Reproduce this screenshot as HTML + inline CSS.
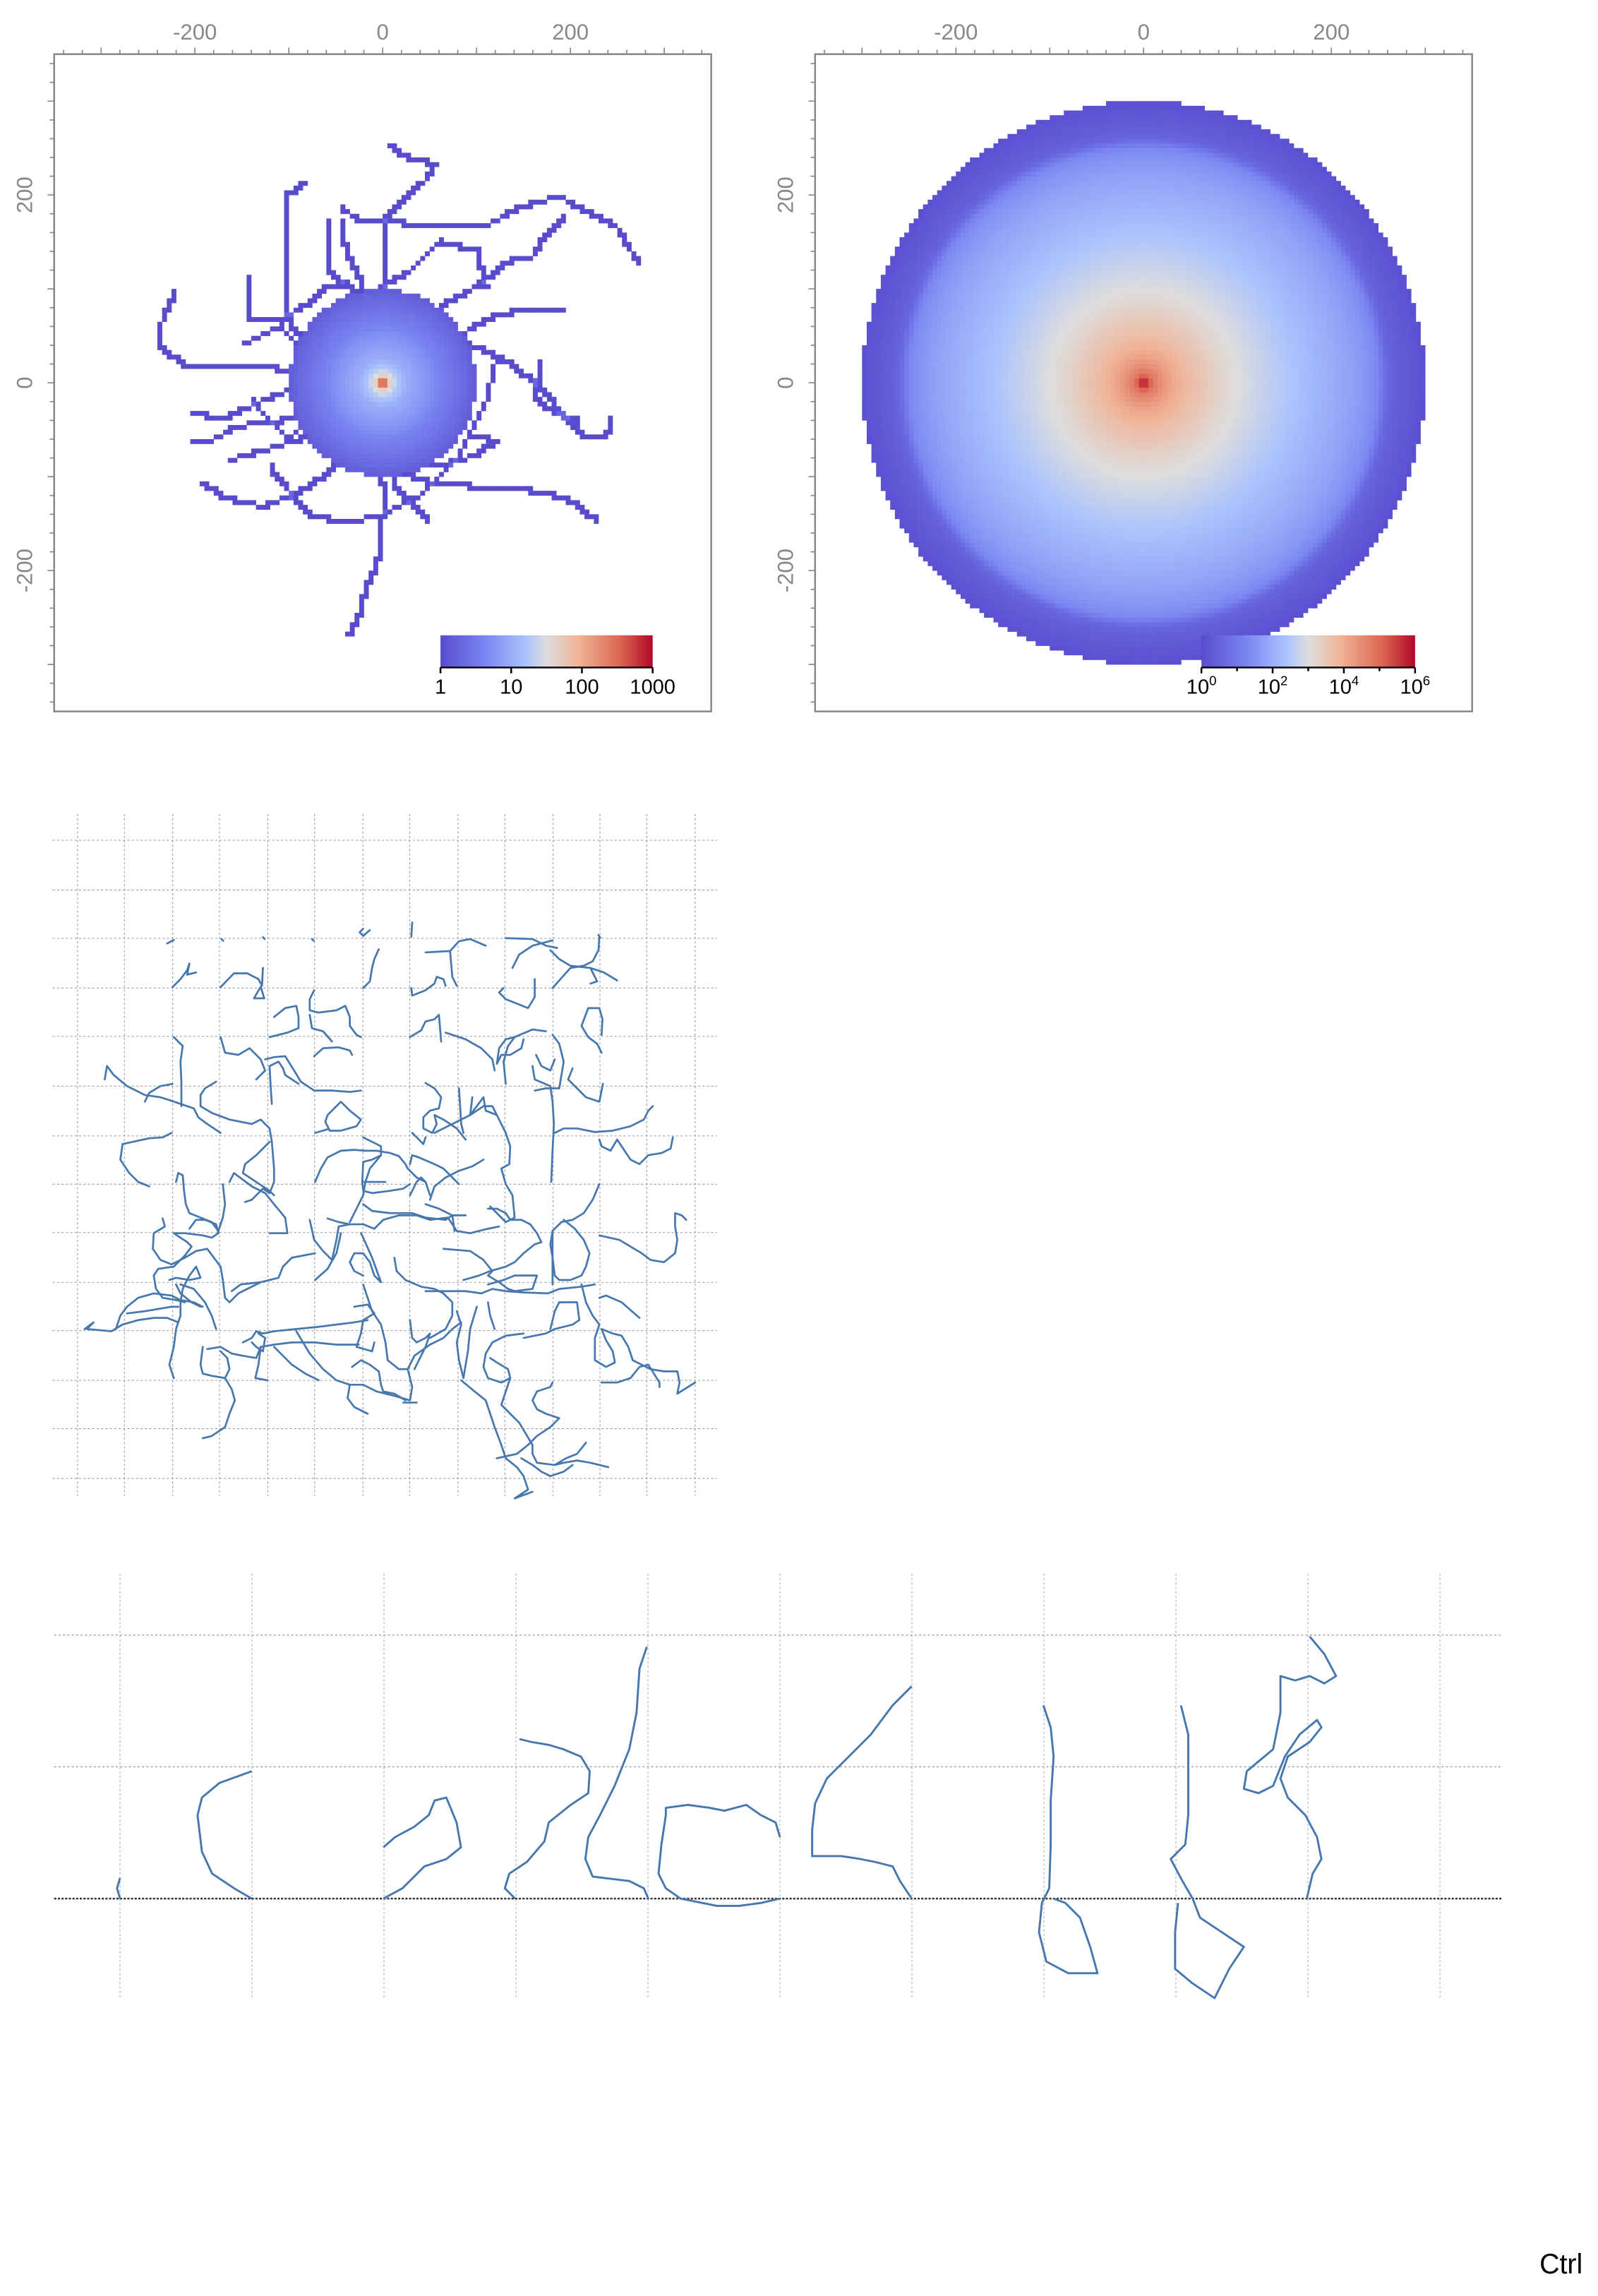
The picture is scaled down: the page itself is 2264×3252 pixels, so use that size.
<!DOCTYPE html>
<html><head><meta charset="utf-8">
<style>
html,body{margin:0;padding:0;background:#fff;}
svg{display:block;font-family:"Liberation Sans",sans-serif;}
</style></head>
<body>
<svg id="root" xmlns="http://www.w3.org/2000/svg" width="2264" height="3252" viewBox="0 0 1092 1568.5" preserveAspectRatio="none">
<defs>
<linearGradient id="cmap" x1="0" x2="1" y1="0" y2="0">
<stop offset="0" stop-color="#584ccd"/><stop offset="0.2" stop-color="#7882f0"/><stop offset="0.4" stop-color="#aac3fd"/><stop offset="0.5" stop-color="#dddddd"/><stop offset="0.65" stop-color="#f0b496"/><stop offset="0.85" stop-color="#dc6450"/><stop offset="1" stop-color="#b20828"/>
</linearGradient>
</defs>
<g id="c1"></g>
<g id="c2"></g>
<g id="c3"></g>
<g id="c4"></g>
<text x="1052" y="1553" font-size="19" fill="#000">Ctrl</text>
</svg>
<script>
// ---------- data ----------
const walks1 = [
 [[-221,97],[-237,60],[-240,39],[-211,19],[-174,18],[-119,17],[-90,9],[-40,5]],
 [[-82,214],[-100,201],[-101,145],[-103,85],[-95,55],[-60,30]],
 [[7,254],[15,246],[34,236],[57,234],[44,214],[28,201],[15,186],[5,176],[0,120],[5,60]],
 [[272,128],[262,145],[249,166],[225,178],[188,199],[162,191],[136,183],[120,171],[94,166],[52,167],[15,171],[-27,173],[-42,186]],
 [[194,178],[173,156],[160,135],[131,128],[104,105],[68,85],[41,65]],
 [[194,77],[152,77],[120,72],[89,54],[57,34]],
 [[241,-36],[241,-54],[215,-59],[194,-36],[178,-16],[157,4],[131,24],[99,39],[68,44]],
 [[228,-147],[204,-127],[173,-117],[136,-112],[94,-110],[52,-107],[26,-97],[5,-82]],
 [[-37,-269],[-27,-253],[-19,-223],[-6,-193],[-2,-163],[2,-127],[-1,-97]],
 [[-192,-107],[-168,-122],[-127,-132],[-90,-117],[-58,-97],[-37,-77]],
 [[-205,-62],[-184,-62],[-153,-46],[-111,-41],[-69,-31],[-37,-21]],
 [[-202,-31],[-174,-39],[-142,-26],[-111,-11],[-79,-6]],
 [[-142,110],[-142,70],[-111,65],[-79,85],[-58,103],[-42,105]],
 [[-42,171],[-42,155],[-37,135],[-22,105],[-10,60]],
 [[167,24],[165,4],[162,-16],[183,-31],[209,-41]],
 [[47,-147],[31,-127],[15,-112],[10,-70]],
 [[-163,-82],[-142,-77],[-111,-67],[-79,-57]],
 [[99,-57],[120,-62],[99,-77],[68,-87],[47,-89]],
 [[-60,170],[-60,120],[-20,90],[30,120],[60,150],[100,140],[110,100]],
 [[-120,-90],[-80,-140],[-40,-150],[0,-140],[40,-120],[80,-80],[110,-20],[120,20]],
 [[-150,40],[-110,60],[-80,30],[-60,-20],[-100,-60],[-140,-20]]
];
const radii1 = [0, 4, 8, 15, 25, 40, 60, 80, 100];
const counts1 = [1000, 150, 40, 18, 10, 7, 4, 2.5, 1.5];
const radii2 = [0,10,20,30,40,50,60,70,80,90,100,110,120,130,140,150,160,170,180,190,200,210,220,230,240,250,260,270,280,290,300];
const logCounts2 = [6,4.8,4.4,4.1,3.9,3.7,3.55,3.4,3.25,3.1,3.0,2.9,2.8,2.7,2.6,2.5,2.4,2.3,2.2,2.1,2.0,1.9,1.8,1.65,1.5,1.3,0.6,0.4,0.3,0.2,0.1];
const axisTicks = [-200, 0, 200];
const cbar1Labels = ["1","10","100","1000"];
const cbar2Exps = ["0","2","4","6"];

const traj3 = [
[[280,295],[295,287]],[[402,285],[406,289]],[[495,281],[499,285]],[[605,285],[609,289]],[[720,262],[712,270],[720,278],[735,265]],[[830,248],[828,280]],[[1248,276],[1252,282]],
[[292,393],[310,375],[325,355],[330,340],[325,365],[345,360]],
[[400,393],[430,362],[460,362],[485,375],[493,390],[495,350]],[[475,418],[490,392],[498,418],[475,418]],
[[755,308],[745,330],[740,350],[735,380],[720,395]],
[[860,315],[915,312],[935,290],[960,285],[995,300]],[[915,312],[920,370],[930,390]],[[828,395],[830,412],[860,400],[880,385],[885,370],[900,375],[905,390]],
[[1040,283],[1100,285],[1130,300],[1155,305]],[[1145,288],[1100,300],[1070,320],[1055,350]],[[1140,310],[1160,330],[1185,345],[1230,350],[1260,360],[1290,378]],[[1250,280],[1248,310],[1235,335],[1215,345],[1185,350],[1145,395]],[[1230,350],[1245,380],[1230,385]],
[[1105,375],[1105,415],[1090,440],[1065,430],[1040,420],[1025,405],[1035,395]],
[[520,460],[545,440],[570,435],[575,460],[575,485],[550,495],[510,505]],
[[610,400],[600,420],[600,445],[620,450],[660,445],[680,435],[690,460],[690,480],[705,500],[715,505]],[[600,455],[605,485],[630,492],[650,515]],[[610,548],[630,530],[665,528],[690,535],[695,545]],
[[825,505],[850,490],[860,470],[880,465],[890,455],[895,515]],[[905,495],[950,510],[985,530],[1010,555],[1015,580]],
[[1250,440],[1225,440],[1210,480],[1225,505],[1245,520],[1255,540]],[[1250,440],[1257,465],[1255,500]],
[[1130,492],[1100,488],[1060,505],[1045,525],[1035,560],[1040,610]],[[1060,505],[1040,510],[1025,530],[1020,565],[1030,545],[1050,545],[1075,530],[1080,510]],
[[1145,500],[1160,520],[1170,560],[1165,590],[1160,620],[1130,620],[1105,625]],[[1108,545],[1120,570],[1140,580],[1150,555]],[[1100,570],[1105,600],[1140,615],[1145,650],[1148,700],[1145,760],[1142,830]],
[[1190,575],[1180,600],[1200,620],[1220,640],[1250,650],[1258,610]],
[[140,600],[145,570],[160,590],[190,615],[230,635],[265,640],[290,648],[310,655],[340,665],[350,685],[370,700],[400,720]],[[230,650],[240,630],[265,615],[292,610]],
[[295,505],[315,525],[310,560],[312,605],[312,660]],
[[400,505],[410,540],[440,545],[465,530],[490,555],[500,580],[480,600]],[[500,555],[520,550],[545,548],[565,580],[580,605],[610,625],[650,625],[690,628],[715,625]],[[510,570],[530,560],[540,575],[545,590],[575,610]],[[510,570],[512,610],[515,655]],
[[390,605],[365,620],[355,635],[355,660],[380,675],[420,690],[470,700],[490,690],[510,710],[515,740]],
[[640,680],[670,650],[690,670],[715,690],[705,705],[670,715],[645,715],[635,695],[640,680]],[[612,720],[640,712]],
[[180,745],[240,732],[270,730],[290,720]],[[180,745],[175,780],[195,810],[215,830],[240,840]],
[[510,740],[480,770],[455,790],[450,810],[480,830],[510,850],[520,860]],[[515,740],[520,800],[520,830],[510,855],[495,845],[470,870],[455,875]],[[420,830],[430,810],[470,840],[500,855],[520,880],[545,910],[550,945],[510,945]],
[[300,830],[305,810],[315,815],[318,850],[322,880],[330,900],[355,910],[380,920],[395,940],[405,910],[410,880],[405,835]],
[[270,912],[275,930],[250,945],[248,980],[265,1005],[290,1015],[320,1000],[345,985],[370,980],[385,1000],[400,1020],[405,1050],[410,1090],[420,1100],[440,1080],[490,1055]],
[[330,935],[345,915],[365,915],[390,925],[395,945],[380,955],[360,950],[320,945],[295,945],[325,965],[335,975],[320,995],[295,1020],[260,1025],[250,1040],[255,1070],[270,1090],[300,1095],[320,1100]],
[[285,1050],[300,1045],[330,1050],[355,1045],[345,1020],[330,1040],[315,1070],[310,1100],[310,1130],[300,1160],[295,1200],[285,1240],[295,1270]],[[300,1060],[310,1080],[335,1100],[355,1110]],
[[95,1160],[115,1145],[100,1160],[155,1165],[180,1150],[215,1140],[250,1135],[280,1135],[305,1145]],[[165,1160],[175,1130],[190,1110],[215,1090],[250,1080],[290,1085],[310,1095],[340,1100],[360,1110]],[[190,1125],[230,1120],[260,1115],[290,1110],[305,1110]],
[[310,1060],[340,1070],[365,1100],[380,1130],[390,1160]],
[[612,990],[560,1000],[540,1020],[530,1045],[490,1055],[445,1060],[425,1075]],
[[600,915],[610,960],[630,985],[650,1005],[660,960],[665,930],[690,925]],[[640,912],[665,920],[690,925],[720,925],[745,935],[765,915],[800,905],[840,905],[870,915],[910,910],[930,940],[960,945],[1000,935],[1025,930]],
[[612,1050],[640,1025],[660,990],[670,945]],
[[720,760],[750,760],[780,765],[800,772],[815,790],[820,800],[840,820],[860,830],[870,860]],[[720,730],[760,750],[760,770],[735,800],[725,830],[720,860],[705,890],[690,920]],[[760,770],[740,780],[720,785],[718,830],[720,850],[740,855],[780,850],[810,845],[825,835]],[[718,830],[770,830]],
[[612,830],[625,800],[640,775],[670,760],[700,758],[725,760]],
[[825,860],[840,830],[850,820],[860,830]],[[825,790],[830,770],[845,775],[880,790],[900,800],[920,820],[935,835]],[[870,870],[880,840],[905,820],[935,805],[965,795],[990,780]],[[860,880],[890,890],[920,905],[950,905]],[[720,880],[740,895],[780,900],[830,900],[860,910],[905,915],[920,905],[925,940]],
[[860,608],[880,620],[895,640],[890,665],[870,670],[855,685],[855,710],[875,720],[885,700],[880,680],[900,690],[930,710],[950,735]],[[935,620],[940,700],[945,720]],
[[880,720],[920,700],[960,680],[990,660],[1010,660],[1025,690],[1040,720],[1050,750],[1048,790],[1030,800],[1040,835],[1055,860],[1060,910],[1040,920],[1020,900],[1005,885]],
[[965,640],[960,680],[990,640],[995,670],[1020,680]],[[830,720],[845,735],[855,745],[860,730]],
[[1000,890],[1020,890],[1040,900],[1050,915],[1075,915],[1095,925],[1110,945],[1120,965],[1105,970],[1080,990],[1060,1010],[1040,1020],[1005,1030],[980,1040],[945,1050]],
[[900,980],[960,985],[990,1005],[1010,1030],[1000,1040],[1025,1055],[1045,1070],[1060,1075],[1100,1070],[1110,1040],[1060,1040],[1035,1050],[1000,1060]],
[[1250,835],[1235,870],[1215,900],[1190,915],[1165,920],[1145,940],[1140,970],[1145,1000],[1150,1040],[1160,1050],[1185,1050],[1210,1040],[1220,1020],[1228,990],[1215,960],[1195,935],[1170,915]],[[1145,940],[1145,1060]],
[[1250,950],[1295,960],[1320,975],[1345,990],[1365,1005],[1395,1010],[1420,990],[1425,960],[1420,930],[1420,900],[1435,905],[1445,915]],
[[1250,735],[1255,750],[1275,760],[1290,735],[1300,750],[1320,780],[1340,790],[1360,770],[1390,765],[1410,755],[1415,730]],
[[1150,720],[1170,710],[1200,710],[1240,718],[1280,715],[1320,705],[1350,690],[1360,670],[1370,660]],
[[790,1000],[795,1030],[815,1050],[850,1065],[880,1070],[900,1080],[920,1100],[920,1130],[905,1160],[870,1180]],[[860,1075],[900,1075],[950,1075],[985,1080],[1010,1070],[1040,1075],[1080,1078],[1135,1080],[1160,1070],[1210,1065],[1240,1060]],
[[720,1040],[700,1030],[690,1010],[700,990],[720,990],[735,1010],[745,1040],[760,1055],[740,1000],[720,955],[715,945]],
[[720,1060],[730,1090],[740,1120],[760,1150],[770,1190],[775,1230],[800,1250],[820,1250]],[[700,1110],[730,1105],[745,1125],[720,1140],[715,1170],[705,1200],[740,1210],[745,1190]],[[695,1245],[715,1230],[735,1240],[755,1255],[760,1285],[765,1300],[790,1305],[815,1320]],
[[450,1190],[470,1180],[480,1165],[495,1170],[520,1165],[570,1160],[620,1155],[700,1145],[730,1140]],[[470,1190],[480,1200],[495,1210],[500,1180],[485,1170]],
[[360,1200],[355,1240],[360,1260],[380,1265],[410,1270],[420,1250],[415,1225],[400,1210]],[[370,1205],[400,1200],[425,1215],[450,1220],[480,1225],[490,1200],[520,1195],[560,1190],[610,1190],[660,1195],[710,1195]],
[[410,1270],[425,1295],[432,1320],[420,1350],[410,1380],[380,1400],[360,1405]],
[[490,1200],[485,1240],[478,1270],[505,1275]],[[520,1200],[560,1240],[590,1260],[620,1275]],
[[570,1165],[600,1215],[630,1250],[660,1275],[690,1285],[720,1285],[750,1300],[790,1310],[825,1320],[830,1290],[820,1250],[835,1220],[870,1195],[900,1180],[920,1160],[940,1145]],[[690,1285],[685,1315],[700,1335],[730,1350]],[[810,1325],[840,1325]],
[[825,1140],[830,1180],[840,1190],[860,1180],[870,1170],[860,1200],[845,1230],[835,1250]],
[[975,1110],[960,1160],[955,1210],[945,1270]],[[930,1120],[940,1150],[930,1190],[935,1230],[945,1270]],[[1000,1100],[1005,1130],[1015,1160]],
[[1080,1170],[1040,1175],[1010,1190],[995,1215],[990,1245],[1000,1270],[1030,1280],[1050,1270],[1045,1250],[1020,1235],[1005,1225]],
[[1160,1100],[1200,1100],[1205,1140],[1190,1150],[1150,1160],[1130,1170],[1080,1180]],[[1140,1160],[1150,1120],[1160,1100]],
[[1210,1060],[1220,1100],[1235,1130],[1250,1150],[1240,1180],[1240,1230],[1265,1245],[1285,1235],[1280,1210],[1265,1185],[1255,1160],[1280,1170],[1300,1175],[1315,1200],[1325,1230],[1345,1240],[1365,1250],[1395,1255],[1425,1255],[1430,1280],[1425,1305],[1465,1280]],
[[1255,1280],[1290,1280],[1320,1270],[1340,1245],[1360,1240],[1385,1280],[1385,1290]],[[1250,1090],[1265,1085],[1300,1100],[1340,1135]],
[[940,1275],[970,1300],[995,1320],[1005,1350],[1015,1380],[1030,1420],[1040,1450],[1065,1470],[1080,1490],[1090,1520],[1060,1540],[1100,1525]],
[[1050,1270],[1040,1300],[1030,1330],[1050,1350],[1070,1370],[1085,1395],[1100,1420],[1100,1440],[1110,1460],[1150,1465],[1175,1450],[1200,1440],[1220,1415]],
[[1145,1280],[1140,1290],[1110,1300],[1100,1320],[1110,1340],[1130,1350],[1160,1360],[1140,1380],[1110,1400],[1090,1420],[1065,1440],[1020,1450]],
[[1150,1465],[1170,1460],[1200,1455],[1230,1460],[1270,1470]],[[1075,1450],[1100,1465],[1120,1480],[1140,1490],[1170,1480],[1190,1465]]
];

const traj4 = [
[[82,1297],[80,1290],[82,1283]],
[[172,1297],[160,1290],[145,1280],[138,1265],[135,1240],[138,1228],[150,1218],[172,1210]],
[[262,1297],[275,1290],[290,1275],[305,1270],[315,1262],[312,1245],[305,1228],[297,1230],[293,1240],[283,1248],[270,1255],[262,1262]],
[[352,1297],[345,1290],[348,1280],[360,1272],[372,1258],[375,1245],[390,1233],[402,1225],[403,1210],[397,1200],[385,1195],[375,1192],[363,1190],[355,1188]],
[[443,1297],[440,1290],[430,1285],[405,1282],[400,1270],[402,1255],[410,1240],[420,1220],[430,1195],[435,1170],[437,1140],[442,1125]],
[[533,1297],[520,1300],[505,1302],[490,1302],[480,1300],[465,1297],[455,1290],[450,1280],[452,1260],[455,1240],[455,1235],[470,1233],[485,1235],[495,1237],[510,1233],[520,1240],[530,1245],[533,1255]],
[[623,1297],[615,1285],[610,1275],[598,1272],[588,1270],[575,1268],[560,1268],[555,1268],[555,1250],[557,1232],[565,1215],[580,1200],[595,1185],[610,1165],[623,1152]],
[[713,1165],[718,1180],[720,1200],[718,1230],[718,1260],[717,1290],[712,1300],[710,1320],[715,1340],[730,1348],[750,1348],[745,1330],[738,1310],[728,1300],[720,1297]],
[[807,1165],[812,1185],[812,1210],[812,1240],[810,1260],[800,1270],[808,1285],[815,1297],[820,1310],[835,1320],[850,1330],[840,1345],[830,1365],[815,1355],[803,1345],[803,1320],[805,1300]],
[[893,1297],[897,1280],[903,1270],[900,1255],[892,1240],[880,1228],[875,1215],[880,1200],[895,1190],[903,1180],[900,1175],[888,1185],[878,1200],[870,1220],[860,1225],[850,1222],[852,1210],[870,1195],[875,1170],[875,1145],[885,1148],[895,1145],[905,1150],[913,1145],[905,1130],[895,1118]]
];

// ---------- helpers ----------
const NS = "http://www.w3.org/2000/svg";
function mk(tag, attrs, parent){ const e=document.createElementNS(NS,tag); for(const k in attrs) e.setAttribute(k,attrs[k]); parent.appendChild(e); return e; }
const STOPS=[[0,[88,76,205]],[0.2,[120,130,240]],[0.4,[170,195,253]],[0.5,[221,221,221]],[0.65,[240,180,150]],[0.85,[220,100,80]],[1,[178,8,40]]];
function cmap(t){ t=Math.max(0,Math.min(1,t)); for(let i=1;i<STOPS.length;i++){ if(t<=STOPS[i][0]){ const a=STOPS[i-1],b=STOPS[i]; const f=(t-a[0])/(b[0]-a[0]); const c=a[1].map((v,j)=>Math.round(v+(b[1][j]-v)*f)); return `rgb(${c[0]},${c[1]},${c[2]})`; } } return "rgb(178,8,40)"; }
function interp(xs, ys, x){ if(x<=xs[0]) return ys[0]; for(let i=1;i<xs.length;i++){ if(x<=xs[i]){ const f=(x-xs[i-1])/(xs[i]-xs[i-1]); return ys[i-1]+(ys[i]-ys[i-1])*f; } } return null; }

function frame(g, x0, y0, size){
  const s = size/700;
  const X = v => x0 + (v+350)*s, Y = v => y0 + (350-v)*s;
  for(let v=-340; v<=340; v+=20){
    const major = v%100===0;
    const t1 = mk("line",{x1:X(v),x2:X(v),y1:y0,y2:y0-(major?4.5:3),stroke:"#888","stroke-width":0.8},g);
    
    
    const t2 = mk("line",{x1:x0,x2:x0-(major?4.5:3),y1:Y(v),y2:Y(v),stroke:"#888","stroke-width":0.8},g);
    
    
  }
  axisTicks.forEach(v=>{
    const tx = mk("text",{x:X(v),y:y0-10,"text-anchor":"middle","font-size":15,fill:"#888"},g); tx.textContent=v;
    
    
    const ty = mk("text",{x:0,y:0,"text-anchor":"middle","font-size":15,fill:"#888",transform:`translate(${x0-15},${Y(v)}) rotate(-90)`},g); ty.textContent=v;
    
    
  });
  const b = mk("rect",{x:x0,y:y0,width:size,height:size,fill:"none",stroke:"#888","stroke-width":1.2},g);
  
  
  return {X,Y,s};
}
function colorbar(g, x, y, w, h, labels, sup){
  const r = mk("rect",{x,y,width:w,height:h,fill:"url(#cmap)"},g);
  
  
  mk("line",{x1:x,x2:x+w,y1:y+h,y2:y+h,stroke:"#000","stroke-width":1.2},g);
  const n = sup ? 6 : labels.length-1;
  for(let i=0;i<=n;i++){ const xx=x+w*i/n; const major = sup ? i%2===0 : true;
    mk("line",{x1:xx,x2:xx,y1:y+h,y2:y+h+(major?4:2.5),stroke:"#000","stroke-width":1.2},g); }
  labels.forEach((l,i)=>{ const xx=x+w*i/(labels.length-1);
    const t = mk("text",{x:xx,y:y+h+18,"text-anchor":"middle","font-size":14,fill:"#000"},g);
    
    
    if(sup){ t.textContent="10"; const ts=mk("tspan",{"font-size":9,dy:-6},t); ts.textContent=l; }
    else t.textContent=l; });
}

// ---------- chart 1 ----------
(function(){
  const g=document.getElementById('c1');
  const x0=37,y0=37,size=449, bin=5;
  const s=size/700;
  const cells=new Map();
  walks1.forEach(w=>{ const seen=new Set();
    for(let i=1;i<w.length;i++){ const [ax,ay]=w[i-1],[bx,by]=w[i]; const L=Math.hypot(bx-ax,by-ay); const n=Math.ceil(L);
      for(let k=0;k<=n;k++){ const px=ax+(bx-ax)*k/n, py=ay+(by-ay)*k/n; const key=Math.floor(px/bin)+","+Math.floor(py/bin); if(!seen.has(key)){seen.add(key); cells.set(key,(cells.get(key)||0)+1);} } } });
  for(let i=-21;i<21;i++) for(let j=-21;j<21;j++){ const cx=(i+0.5)*bin, cy=(j+0.5)*bin; const r=Math.hypot(cx,cy);
    const c=interp(radii1,counts1,r); if(c!==null){ const key=i+","+j; cells.set(key,Math.max(cells.get(key)||0,c)); } }
  const hg=mk("g",{},g);
  
  
  cells.forEach((c,key)=>{ const [i,j]=key.split(",").map(Number);
    const rc=mk("rect",{x:x0+(i*bin+350)*s,y:y0+(350-(j+1)*bin)*s,width:bin*s+0.15,height:bin*s+0.15,fill:cmap(Math.log10(c)/3)},hg);
    
     });
  frame(g,x0,y0,size);
  colorbar(g,301,434,145,22,cbar1Labels,false);
})();

// ---------- chart 2 ----------
(function(){
  const g=document.getElementById('c2');
  const x0=557,y0=37,size=449, bin=5;
  const s=size/700;
  const hg=mk("g",{},g);
  
  
  for(let i=-62;i<62;i++) for(let j=-62;j<62;j++){ const cx=(i+0.5)*bin, cy=(j+0.5)*bin; const r=Math.hypot(cx,cy);
    const lc=interp(radii2,logCounts2,r); if(lc===null) continue;
    const rc=mk("rect",{x:x0+(i*bin+350)*s,y:y0+(350-(j+1)*bin)*s,width:bin*s+0.15,height:bin*s+0.15,fill:cmap(lc/6)},hg);
    
     }
  frame(g,x0,y0,size);
  colorbar(g,821,434,146,22,cbar2Exps,true);
})();

// ---------- chart 3 ----------
(function(){
  const g=document.getElementById('c3');
  const gx=[53,85,118,150,183,215,248,280,313,345,378,410,442,475];
  const gy=[574,608,641,675,708,742,776,809,842,876,909,943,976,1010];
  gx.forEach(x=>{ const l=mk("line",{x1:x,x2:x,y1:556,y2:1022,stroke:"#999","stroke-width":0.5,"stroke-dasharray":"1.5,1.5"},g);
      });
  gy.forEach(y=>{ const l=mk("line",{x1:36,x2:490,y1:y,y2:y,stroke:"#999","stroke-width":0.5,"stroke-dasharray":"1.5,1.5"},g);
      });
  const tg=mk("g",{transform:"translate(28.94,554.7) scale(0.3045)"},g);
  traj3.forEach(p=>{ const pl=mk("polyline",{points:p.map(q=>q.join(",")).join(" "),fill:"none",stroke:"#4677ad","stroke-width":4.3,"stroke-linejoin":"round","stroke-linecap":"round"},tg);
      });
})();

// ---------- chart 4 ----------
(function(){
  const g=document.getElementById('c4');
  for(let i=0;i<=10;i++){ const x=82+90.2*i; const l=mk("line",{x1:x,x2:x,y1:1075,y2:1365,stroke:"#aaa","stroke-width":0.5,"stroke-dasharray":"1.5,1.5"},g);
      }
  [1117,1207].forEach(y=>{ const l=mk("line",{x1:37,x2:1027,y1:y,y2:y,stroke:"#999","stroke-width":0.6,"stroke-dasharray":"1.5,1.5"},g);
      });
  const b=mk("line",{x1:37,x2:1027,y1:1297,y2:1297,stroke:"#333","stroke-width":1.2,"stroke-dasharray":"1.5,1"},g);
   
  traj4.forEach(p=>{ const pl=mk("polyline",{points:p.map(q=>q.join(",")).join(" "),fill:"none",stroke:"#4677ad","stroke-width":1.4,"stroke-linejoin":"round"},g);
      });
})();
</script>
</body></html>
